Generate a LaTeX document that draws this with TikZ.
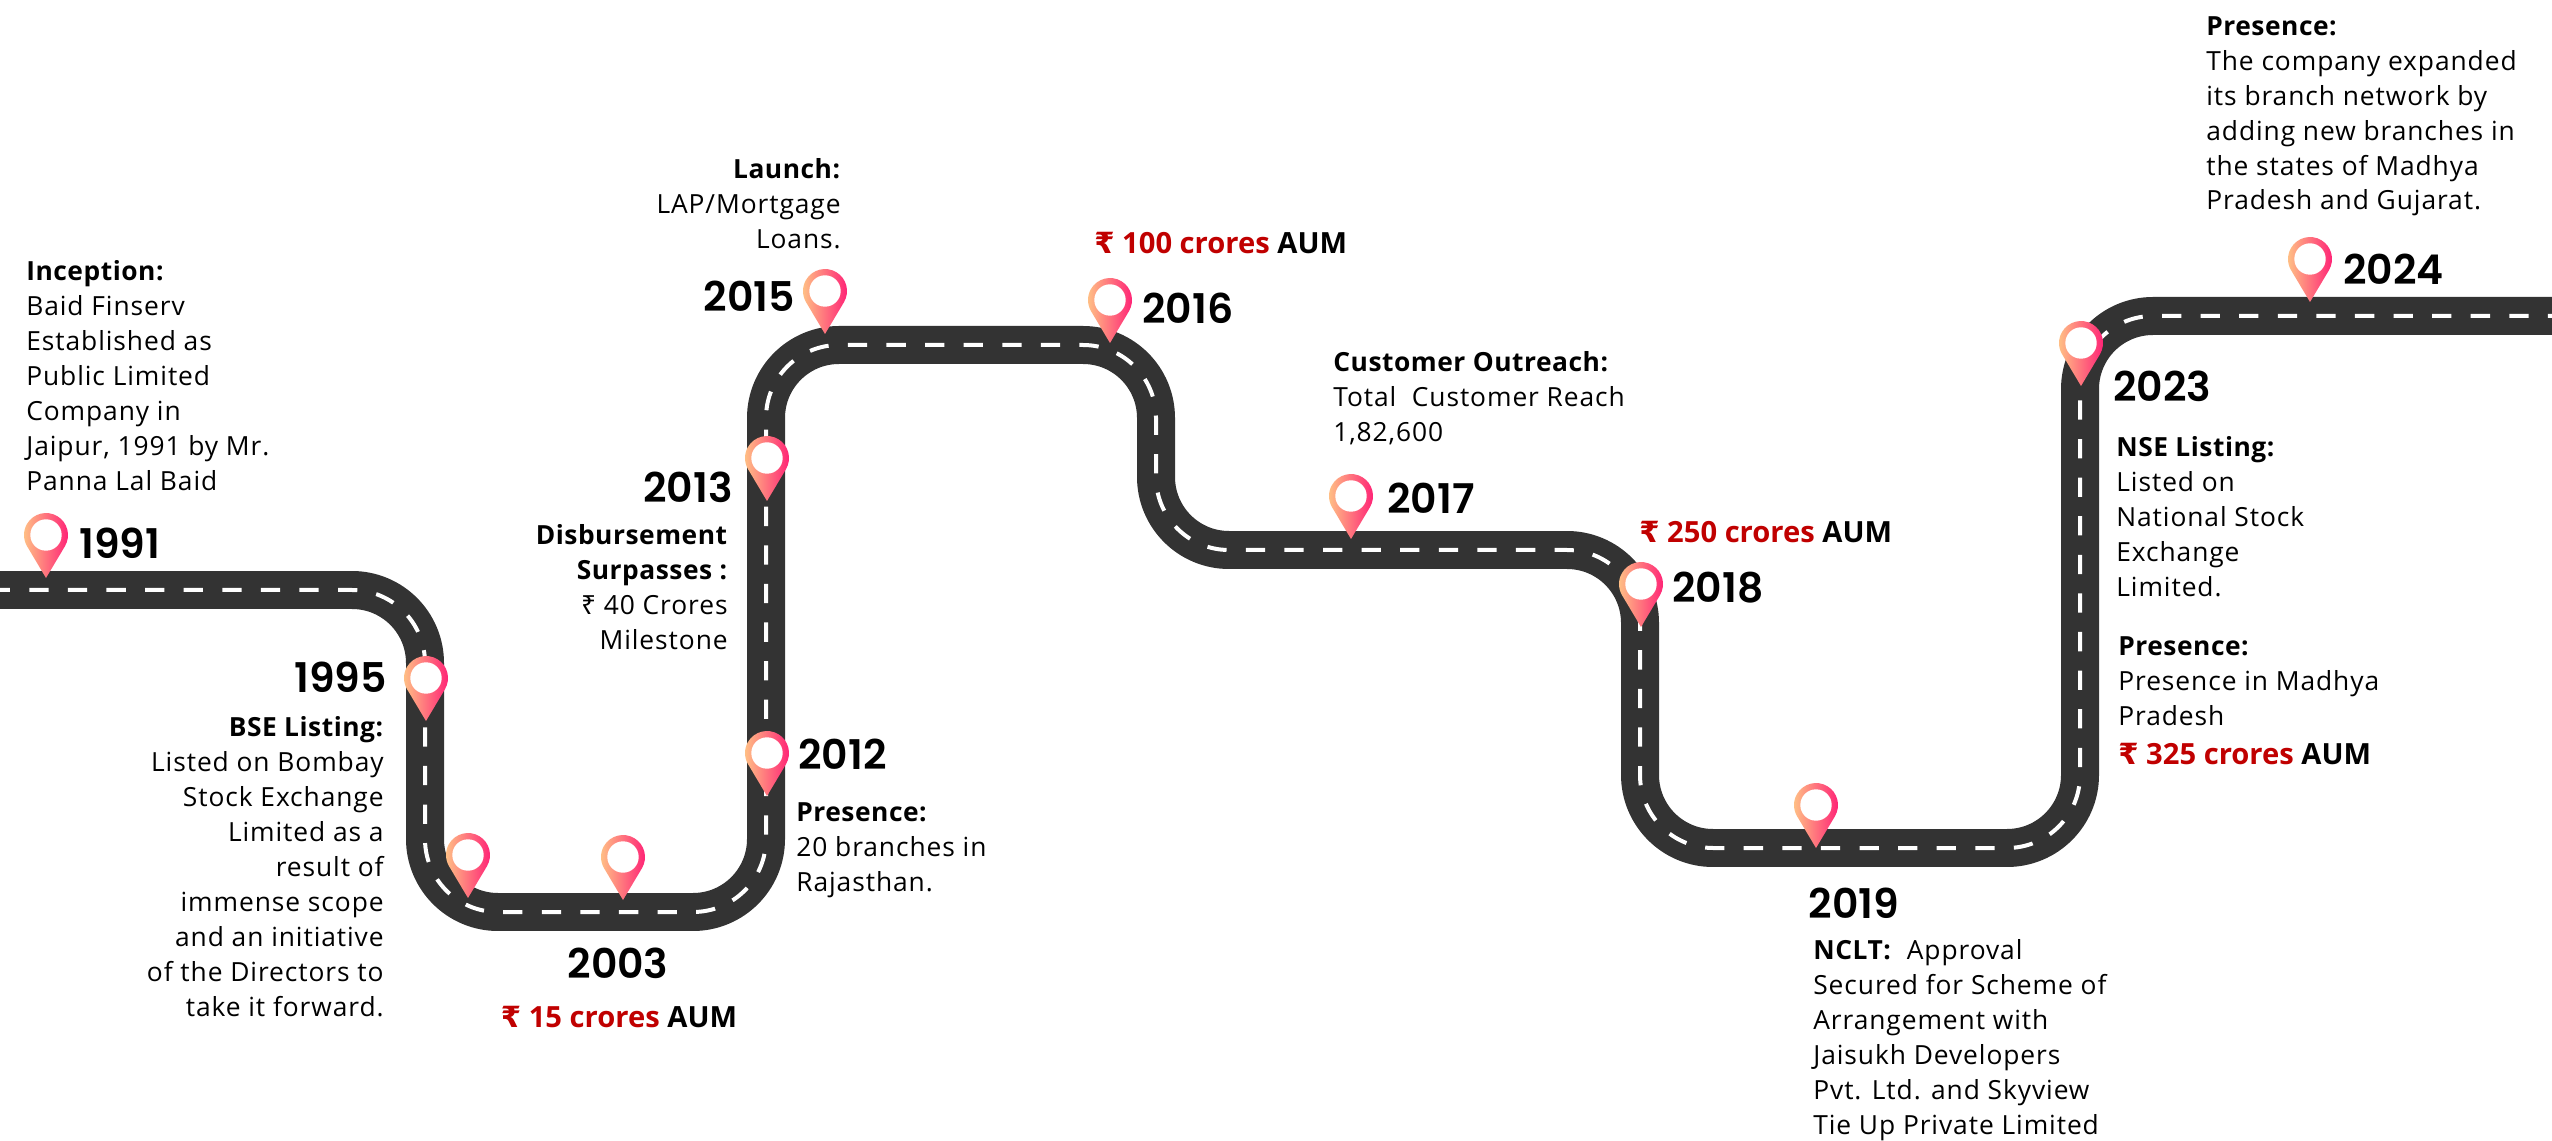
\documentclass[tikz,border=0pt]{standalone}
\usepackage{fontspec}
\setmainfont[LetterSpace=3.5, BoldFeatures={LetterSpace=2}]{Open Sans}
\newfontfamily\rupeefont{Noto Sans}
\newfontfamily\rupeeboldfont{DejaVu Sans}
\newfontfamily\amountfont{Open Sans}
\newfontfamily\yearfont[BoldFont={Poppins SemiBold}]{Poppins}
\usetikzlibrary{positioning,calc}

\definecolor{roadgrey}{HTML}{333333}
\definecolor{pinpeach}{HTML}{FFC285}
\definecolor{pinpink}{HTML}{FF1A75}
\definecolor{amountred}{HTML}{C00000}

\newcommand{\rupee}{{\rupeefont ₹}}
\newcommand{\amount}[1]{{\amountfont\bfseries\textcolor{amountred}{{\rupeeboldfont ₹} #1} AUM}}

\tikzset{
	note/.style = {font=\fontsize{15}{19.9}\selectfont, align=left, inner sep=0pt},
	noter/.style = {font=\fontsize{15}{19.9}\selectfont, align=right, inner sep=0pt},
	year/.style = {font=\fontsize{23.3}{23.3}\selectfont\yearfont\bfseries, inner sep=0pt},
	aum/.style = {font=\fontsize{16.6}{20}\selectfont, inner sep=0pt},
	pin/.pic = {
		\shade[left color=pinpeach, right color=pinpink] (0,0) -- (18.9,-31.7) arc[start angle=30.8, end angle=-210.8, radius=22] -- cycle;
		\fill[white] (0,-43) circle[radius=15.7];
	}
}

\begin{document}
\begin{tikzpicture}[x=0.02cm, y=-0.02cm]
	\useasboundingbox (0,0) rectangle (2552,1141);
	% road
	\draw[roadgrey, line width=0.76cm, rounded corners=1.46cm] (0,590) -- (425,590) -- (425,912) -- (766,912) -- (766,345) -- (1156,345) -- (1156,550) -- (1640,550) -- (1640,848) -- (2080,848) -- (2080,316) -- (2552,316);
	\draw[white, line width=0.08cm, rounded corners=1.46cm, dash pattern=on 0.386cm off 0.386cm, dash phase=0.186cm] (0,590) -- (425,590) -- (425,912) -- (766,912) -- (766,345) -- (1156,345) -- (1156,550) -- (1640,550) -- (1640,848) -- (2080,848) -- (2080,316) -- (2552,316);
	% pins
	\foreach \tipx/\tipy in {46/578, 426/721, 468/898, 623/900, 767/796, 767/501, 825/334, 1110/343, 1351/539, 1641/627, 1816/848, 2081/386, 2310/302}
		\pic at (\tipx,\tipy) {pin};
	% years
	\node[year, anchor=west] (y1991) at (79,543) {1991};
	\node[year, anchor=east] (y1995) at (387,677) {1995};
	\node[year] (y2003) at (618,963) {2003};
	\node[year, anchor=west] (y2012) at (798,754) {2012};
	\node[year, anchor=east] (y2013) at (733,487) {2013};
	\node[year, anchor=east] (y2015) at (795,296) {2015};
	\node[year, anchor=west] (y2016) at (1142,308) {2016};
	\node[year, anchor=west] (y2017) at (1387,498) {2017};
	\node[year, anchor=west] (y2018) at (1672,588) {2018};
	\node[year] (y2019) at (1854,903) {2019};
	\node[year, anchor=west] (y2023) at (2113,386) {2023};
	\node[year, anchor=west] (y2024) at (2343,269) {2024};
	% amounts
	\node[aum] (aum2003) at (619,1017) {\amount{15 crores}};
	\node[aum, anchor=west] (aum2016) at (1094,243) {\amount{100 crores}};
	\node[aum, anchor=west] (aum2018) at (1639,532) {\amount{250 crores}};
	\node[aum, anchor=west] (aum2023) at (2118,754) {\amount{325 crores}};
	% notes
	\node[note, anchor=north west] (inception) at (26,260) {\textbf{Inception:}\\Baid Finserv\\Established as\\Public Limited\\Company in\\Jaipur, 1991 by Mr.\\Panna Lal Baid};
	\node[noter, anchor=north east] (bse) at (384,716) {\textbf{BSE Listing:}\\Listed on Bombay\\Stock Exchange\\Limited as a\\result of\\immense scope\\and an initiative\\of the Directors to\\take it forward.};
	\node[note, anchor=north west] (presence2012) at (796,802) {\textbf{Presence:}\\20 branches in\\Rajasthan.};
	\node[noter, anchor=north east] (disbursement) at (728,524) {\textbf{Disbursement}\\\textbf{Surpasses :}\\\rupee{} 40 Crores\\Milestone};
	\node[noter, anchor=north east] (launch) at (841,158) {\textbf{Launch:}\\LAP/Mortgage\\Loans.};
	\node[note, anchor=north west] (outreach) at (1333,351) {\textbf{Customer Outreach:}\\Total~~Customer Reach\\1,82,600};
	\node[note, anchor=north west] (nclt) at (1813,939) {\textbf{NCLT:}~~Approval\\Secured for Scheme of\\Arrangement with\\Jaisukh Developers\\Pvt. Ltd. and Skyview\\Tie Up Private Limited};
	\node[note, anchor=north west] (nse) at (2116,436) {\textbf{NSE Listing:}\\Listed on\\National Stock\\Exchange\\Limited.};
	\node[note, anchor=north west] (presence2023) at (2118,636) {\textbf{Presence:}\\Presence in Madhya\\Pradesh};
	\node[note, anchor=north west] (presence2024) at (2206,16) {\textbf{Presence:}\\The company expanded\\its branch network by\\adding new branches in\\the states of Madhya\\Pradesh and Gujarat.};
\end{tikzpicture}
\end{document}
